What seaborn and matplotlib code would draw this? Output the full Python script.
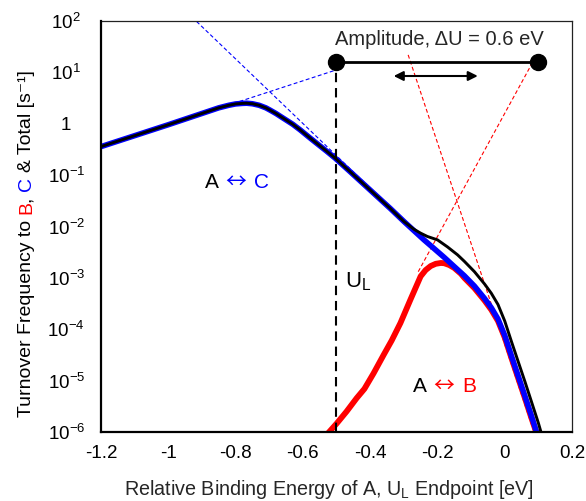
import matplotlib
matplotlib.use("Agg")
import matplotlib.pyplot as plt
import seaborn as sns
import pandas as pd

# ---------------- data ----------------
# A <-> C turnover frequency (blue)
x_ac = [-1.2, -1.1, -1.0, -0.9, -0.85, -0.82, -0.8, -0.78, -0.767, -0.75, -0.73,
        -0.71, -0.698, -0.68, -0.658, -0.63, -0.608, -0.58, -0.559, -0.53, -0.504,
        -0.46, -0.42, -0.38, -0.34, -0.30, -0.27, -0.24, -0.21, -0.18, -0.15,
        -0.12, -0.09, -0.06, -0.04, -0.02, 0.0, 0.02, 0.04, 0.06, 0.08, 0.097]
f_ac = [0.359, 0.586, 0.957, 1.585, 2.04, 2.29, 2.43, 2.49, 2.51, 2.45, 2.29,
        2.04, 1.85, 1.585, 1.28, 0.977, 0.759, 0.537, 0.417, 0.295, 0.214,
        0.1175, 0.0676, 0.0389, 0.0224, 0.0126, 8.32e-3, 5.5e-3, 3.72e-3, 2.51e-3, 1.66e-3,
        1.1e-3, 6.92e-4, 3.98e-4, 2.63e-4, 1.58e-4, 7.59e-5, 3.02e-5, 1.23e-5, 5.01e-6, 2.0e-6, 8.9e-7]

# A <-> B turnover frequency (red)
x_ab = [-0.525, -0.50, -0.47, -0.44, -0.417, -0.39, -0.36, -0.336, -0.31, -0.28,
        -0.25, -0.235, -0.22, -0.205, -0.19, -0.18, -0.165, -0.15, -0.13, -0.12, -0.09,
        -0.06, -0.04, -0.02, 0.0, 0.02, 0.04, 0.06, 0.08, 0.096]
f_ab = [9.5e-7, 1.45e-6, 2.51e-6, 4.57e-6, 6.92e-6, 1.38e-5, 3.16e-5, 6.03e-5, 1.32e-4, 3.8e-4,
        1.07e-3, 1.42e-3, 1.70e-3, 1.88e-3, 1.95e-3, 1.93e-3, 1.78e-3, 1.56e-3, 1.2e-3, 1.0e-3, 6.31e-4,
        3.63e-4, 2.40e-4, 1.45e-4, 6.92e-5, 2.75e-5, 1.12e-5, 4.57e-6, 1.82e-6, 8.9e-7]

# Total turnover frequency (black)
x_total = [-1.2, -1.1, -1.0, -0.9, -0.85, -0.82, -0.8, -0.78, -0.767, -0.75, -0.73,
           -0.71, -0.698, -0.68, -0.658, -0.63, -0.608, -0.58, -0.559, -0.53, -0.504,
           -0.46, -0.42, -0.38, -0.34, -0.30, -0.27, -0.25, -0.23, -0.2, -0.17,
           -0.14, -0.12, -0.09, -0.06, -0.04, -0.02, 0.0, 0.02, 0.04, 0.06, 0.08, 0.1, 0.11]
f_total = [0.359, 0.586, 0.957, 1.585, 2.04, 2.29, 2.43, 2.49, 2.51, 2.45, 2.29,
           2.04, 1.85, 1.585, 1.28, 0.977, 0.759, 0.537, 0.417, 0.295, 0.214,
           0.1175, 0.0676, 0.0389, 0.0224, 0.0126, 8.86e-3, 7.42e-3, 6.4e-3, 5.5e-3, 4.0e-3,
           2.8e-3, 2.1e-3, 1.32e-3, 7.61e-4, 5.03e-4, 3.03e-4, 1.45e-4, 5.77e-5, 2.35e-5,
           9.6e-6, 3.8e-6, 1.5e-6, 8.9e-7]

# straight guide lines (asymptotes)
x_ac_rise = [-1.2, -0.5]
f_ac_rise = [0.359, 11.2]
x_ac_fall = [-0.916, -0.05]
f_ac_fall = [98.0, 3.55e-4]
x_ab_rise = [-0.257, 0.095]
f_ab_rise = [1.32e-3, 21.9]
x_ab_fall = [-0.287, 0.087]
f_ab_fall = [21.9, 1.0e-6]

# limiting potential and amplitude marker
ul_x = -0.5
amp_x = [-0.5, 0.1]
amp_f = [16.2, 16.2]
arrow_x = [-0.33, -0.08]
arrow_f = 8.5

xticks = [-1.2, -1.0, -0.8, -0.6, -0.4, -0.2, 0.0, 0.2]
xtick_labels = ["-1.2", "-1", "-0.8", "-0.6", "-0.4", "-0.2", "0", "0.2"]
yticks = [1e-6, 1e-5, 1e-4, 1e-3, 1e-2, 1e-1, 1, 10, 100]
ytick_labels = [r"$\mathdefault{10^{-6}}$", r"$\mathdefault{10^{-5}}$", r"$\mathdefault{10^{-4}}$",
                r"$\mathdefault{10^{-3}}$", r"$\mathdefault{10^{-2}}$", r"$\mathdefault{10^{-1}}$",
                "1", r"$\mathdefault{10^{1}}$", r"$\mathdefault{10^{2}}$"]

# ---------------- style ----------------
sns.set_style("white")
FAM = ["Liberation Sans", "DejaVu Sans"]
ARROW_FAM = ["Noto Sans CJK JP", "DejaVu Sans"]
plt.rcParams["font.family"] = FAM
plt.rcParams["mathtext.fontset"] = "custom"
plt.rcParams["mathtext.rm"] = "Liberation Sans"
plt.rcParams["mathtext.it"] = "Liberation Sans:italic"
plt.rcParams["mathtext.default"] = "regular"
plt.rcParams["axes.unicode_minus"] = False

RED = "#FF0000"
BLUE = "#0000FF"
BLACK = "#000000"
W, H = 586, 501

fig = plt.figure(figsize=(W / 100, H / 100), dpi=100)
ax = fig.add_axes([101 / W, 1 - 432 / H, 471 / W, 411 / H])

df_ab = pd.DataFrame({"x": x_ab, "f": f_ab})
df_ac = pd.DataFrame({"x": x_ac, "f": f_ac})
df_tot = pd.DataFrame({"x": x_total, "f": f_total})

thin = dict(lw=0.8, dashes=(3.5, 2.2), zorder=1.5)
ax.plot(x_ac_rise, f_ac_rise, color=BLUE, **thin)
ax.plot(x_ac_fall, f_ac_fall, color=BLUE, **thin)
ax.plot(x_ab_rise, f_ab_rise, color=RED, **thin)
ax.plot(x_ab_fall, f_ab_fall, color=RED, **thin)

sns.lineplot(data=df_ab, x="x", y="f", ax=ax, color=RED, lw=4.2, estimator=None, zorder=2)
sns.lineplot(data=df_ac, x="x", y="f", ax=ax, color=BLUE, lw=4.0, estimator=None, zorder=3)
sns.lineplot(data=df_tot, x="x", y="f", ax=ax, color=BLACK, lw=2.1, estimator=None, zorder=4)

# limiting potential
ax.plot([ul_x, ul_x], [1e-6, amp_f[0]], color=BLACK, lw=1.5, dashes=(4.5, 2.8), zorder=6)
# amplitude bar with end points
ax.plot(amp_x, amp_f, color=BLACK, lw=2.0, marker="o", markersize=11.5, zorder=7, clip_on=False)
ax.annotate("", xy=(arrow_x[1], arrow_f), xytext=(arrow_x[0], arrow_f),
            arrowprops=dict(arrowstyle="<|-|>", color=BLACK, lw=1.5, mutation_scale=14,
                            shrinkA=0, shrinkB=0), zorder=7)

ax.set_yscale("log")
ax.set_xlim(-1.2, 0.2)
ax.set_ylim(1e-6, 1e2)
ax.set_xticks(xticks)
ax.set_xticklabels(xtick_labels)
ax.set_yticks(yticks)
ax.set_yticklabels(ytick_labels)
ax.minorticks_off()
ax.tick_params(axis="both", which="major", direction="inout", length=8, width=1.5,
               color=BLACK, labelcolor=BLACK)
ax.tick_params(axis="x", pad=5, labelsize=13.5)
ax.tick_params(axis="y", pad=21, labelsize=13.5)
for lab in ax.get_yticklabels():
    lab.set_horizontalalignment("center")

for side in ["left", "bottom"]:
    ax.spines[side].set_linewidth(1.6)
    ax.spines[side].set_color(BLACK)
    ax.spines[side].set_zorder(8)
for side in ["top", "right"]:
    ax.spines[side].set_linewidth(0.9)
    ax.spines[side].set_color("#222222")

ax.set_xlabel(r"Relative Binding Energy of A, $\mathdefault{U_L}$ Endpoint [eV]",
              fontsize=14.2)
ax.xaxis.set_label_coords(0.484, -0.113)
ax.set_ylabel("")

ax.text(-0.195, 34, "Amplitude, \u0394U = 0.6 eV", fontsize=14.5, ha="center", va="baseline")
ax.text(-0.475, 6.6e-4, r"$\mathdefault{U_L}$", fontsize=16, color=BLACK, ha="left", va="baseline")

# ---------------- multi-coloured texts, placed piece by piece ----------------
renderer = fig.canvas.get_renderer()


def ink_width(s, size, family):
    t = fig.text(0, 0, s, fontsize=size, family=family)
    w = t.get_window_extent(renderer=renderer).width
    t.remove()
    return w


def reaction_label(xd, yd, other, color, size=15):
    px, py = ax.transData.transform((xd, yd))
    em = size * 100 / 72
    fig.text(px / W, py / H, "A", fontsize=size, color=BLACK, family=FAM,
             ha="left", va="baseline")
    px += ink_width("A", size, FAM) + 0.3 * em
    arrow_size = size
    fig.text(px / W, (py + 0.02 * em) / H, "\u2194", fontsize=arrow_size, color=color,
             family=ARROW_FAM, ha="left", va="baseline")
    px += ink_width("\u2194", arrow_size, ARROW_FAM) + 0.38 * em
    fig.text(px / W, py / H, other, fontsize=size, color=color, family=FAM,
             ha="left", va="baseline")


reaction_label(-0.891, 0.055, "C", BLUE)
reaction_label(-0.273, 6.0e-6, "B", RED)

ylab_full = "Turnover Frequency to B, C & Total [s\u207b\u00b9]"
ylab_pieces = [("Turnover Frequency to", BLACK), ("B", RED), (",", BLACK),
               ("C", BLUE), ("& Total [s\u207b\u00b9]", BLACK)]
ylab_size = 14
y0 = H - 417
pos = 0
for s, c in ylab_pieces:
    i = ylab_full.index(s, pos)
    end = i + len(s)
    pos = end
    start = y0 + ink_width(ylab_full[:end], ylab_size, FAM) - ink_width(s, ylab_size, FAM)
    fig.text(31 / W, start / H, s, rotation=90, rotation_mode="anchor",
             ha="left", va="baseline", fontsize=ylab_size, color=c, family=FAM)

fig.savefig("out.png", dpi=100)
